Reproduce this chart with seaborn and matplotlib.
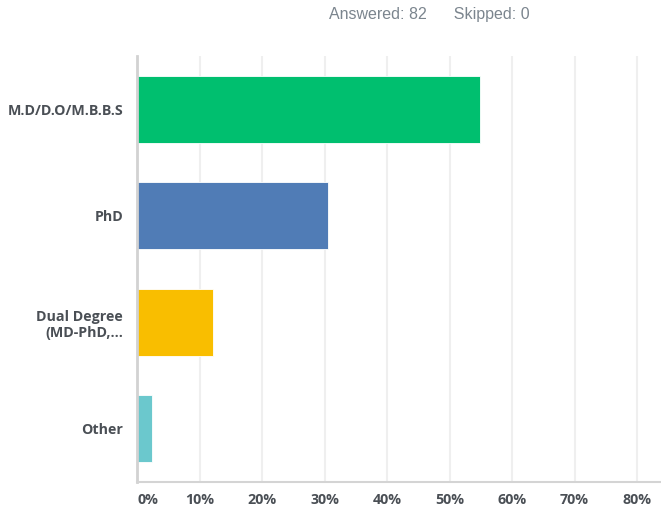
import pandas as pd
import seaborn as sns
import matplotlib.pyplot as plt
from matplotlib.ticker import FuncFormatter

# survey answers (share of 82 respondents)
choices = ["M.D/D.O/M.B.B.S", "PhD", "Dual Degree\n(MD-PhD,...", "Other"]
shares = [54.88, 30.49, 12.20, 2.44]
bar_colors = ["#00bf6f", "#507cb6", "#f9be00", "#6bc8cd"]
x_ticks = [0, 10, 20, 30, 40, 50, 60, 70, 80]
answered = 82
skipped = 0

df = pd.DataFrame({"choice": choices, "share": shares})

sns.set_style("white")
plt.rcParams['font.family'] = ['Open Sans', 'DejaVu Sans']

fig = plt.figure(figsize=(6.61, 5.19), dpi=100)
ax = fig.add_axes([0.2073, 0.0713, 0.7927, 0.8208])

sns.barplot(data=df, x="share", y="choice", hue="choice", palette=bar_colors,
            saturation=1, width=0.63, legend=False, ax=ax,
            edgecolor="white", linewidth=0.6)

ax.set_xlim(0, 83.84)
ax.set_ylim(3.5, -0.5)
ax.set_xticks(x_ticks)
ax.xaxis.set_major_formatter(FuncFormatter(lambda v, p: f"{v:.0f}%"))
ax.xaxis.grid(True, color="#efefef", linewidth=1.5)
ax.set_axisbelow(True)
ax.set(xlabel="", ylabel="")

for s in ["top", "right"]:
    ax.spines[s].set_visible(False)
ax.spines["left"].set_color("#d2d2d2")
ax.spines["left"].set_linewidth(2)
ax.spines["bottom"].set_color("#d4d4d4")
ax.spines["bottom"].set_linewidth(1.5)

ax.tick_params(axis="x", length=0, pad=8, labelsize=10.3, labelcolor="#4a4f55")
ax.tick_params(axis="y", length=0, pad=10, labelsize=10.3, labelcolor="#4a4f55")
for lab in ax.get_xticklabels() + ax.get_yticklabels():
    lab.set_fontweight("bold")
ax.get_xticklabels()[0].set_horizontalalignment("left")

fig.text(0.497, 0.972, f"Answered: {answered}      Skipped: {skipped}",
         ha="left", va="center", fontsize=11.5, color="#7b858e",
         family="Liberation Sans")

plt.savefig("out.png", dpi=100)
